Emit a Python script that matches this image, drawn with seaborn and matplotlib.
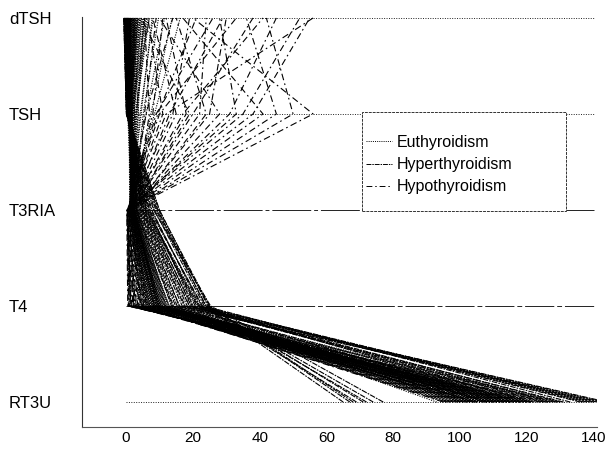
import matplotlib
matplotlib.use("Agg")
import matplotlib.pyplot as plt
import pandas as pd
import seaborn as sns
from matplotlib.patches import Rectangle

# Axis order, bottom to top
variables = ["RT3U", "T4", "T3RIA", "TSH", "dTSH"]
classes = ["Euthyroidism", "Hyperthyroidism", "Hypothyroidism"]
x_ticks = [0, 20, 40, 60, 80, 100, 120, 140]

# Euthyroidism
eu_rt3u = [107, 113, 127, 109, 105, 105, 110, 114, 106, 107,
           106, 110, 116, 112, 122, 109, 111, 114, 119, 115,
           101, 103, 109, 102, 121, 100, 106, 118, 104, 129,
           117, 98, 112, 120, 96, 108, 124, 111, 103, 115,
           99, 113, 126, 105, 110, 118, 93, 121, 108, 116,
           102, 114, 130, 97, 109, 119, 104, 112, 123, 100,
           117, 106, 111, 95, 125, 113, 108, 120, 101, 115]
eu_t4 = [10.1, 9.9, 12.9, 5.3, 7.3, 6.1, 10.4, 9.9, 9.4, 13.0,
         4.2, 11.3, 9.2, 8.1, 9.7, 8.4, 8.4, 6.7, 10.6, 7.1,
         8.8, 6.5, 11.7, 9.0, 7.6, 10.9, 5.8, 8.3, 12.2, 9.5,
         7.9, 11.0, 6.3, 10.2, 8.6, 12.5, 7.0, 9.1, 5.6, 11.8,
         8.0, 6.9, 10.7, 9.6, 4.8, 7.7, 11.5, 8.9, 12.0, 6.0,
         9.3, 10.5, 7.4, 11.2, 8.2, 5.1, 9.8, 6.6, 10.0, 12.7,
         7.2, 8.6, 11.9, 9.0, 6.4, 10.3, 7.8, 4.6, 8.5, 9.7]
eu_t3 = [2.2, 3.1, 2.4, 1.6, 1.5, 2.1, 1.6, 2.4, 2.2, 1.1,
         1.2, 2.3, 2.7, 1.9, 1.6, 2.1, 1.5, 1.5, 2.1, 1.3,
         1.8, 1.4, 2.6, 2.0, 1.7, 2.9, 1.0, 1.9, 3.3, 2.2,
         1.5, 2.5, 1.3, 2.0, 1.8, 3.0, 1.4, 2.3, 1.2, 2.8,
         1.7, 1.6, 2.4, 2.1, 0.9, 1.8, 2.6, 2.0, 3.4, 1.3,
         2.0, 2.3, 1.5, 2.7, 1.9, 1.1, 2.2, 1.4, 2.5, 3.1,
         1.6, 1.9, 2.9, 2.0, 1.2, 2.4, 1.7, 0.8, 1.8, 2.2]
eu_tsh = [0.9, 2.0, 1.4, 1.4, 1.5, 1.4, 1.6, 1.5, 1.5, 0.9,
          1.6, 0.9, 1.0, 3.7, 0.9, 1.1, 0.8, 1.0, 1.3, 1.3,
          1.2, 2.4, 0.7, 1.8, 3.1, 1.0, 2.6, 1.9, 0.6, 1.4,
          4.2, 1.1, 2.2, 0.8, 3.3, 1.7, 1.2, 5.1, 1.5, 2.0,
          0.5, 2.8, 1.3, 1.0, 6.0, 1.6, 0.9, 2.3, 1.1, 4.5,
          1.8, 1.2, 3.6, 0.7, 1.4, 2.9, 1.0, 1.7, 0.8, 2.5,
          1.3, 3.0, 1.1, 7.4, 0.9, 1.5, 2.1, 8.5, 1.9, 1.2]
eu_dtsh = [2.7, 5.9, 0.6, 1.5, -0.1, 7.0, 2.7, 5.7, 0.0, 3.1,
           1.4, 3.3, 4.2, 2.0, 2.2, 3.6, 1.2, 3.5, 1.1, 2.0,
           0.5, 3.9, 1.8, -0.4, 6.2, 2.5, 1.0, 4.8, 0.3, 2.9,
           8.1, 1.6, 3.0, -0.2, 5.4, 2.1, 0.8, 9.7, 1.9, 4.4,
           0.2, 6.6, 2.4, 1.3, 11.5, 3.2, -0.5, 4.1, 1.7, 7.8,
           2.6, 0.9, 5.0, 0.4, 2.3, 6.9, 1.5, 3.7, -0.3, 4.6,
           1.8, 5.3, 1.0, 13.8, 0.7, 2.8, 3.4, 16.2, 2.2, 1.4]

# Hyperthyroidism
hyper_rt3u = [77, 65, 128, 141, 71, 136, 118, 69, 143, 112,
              131, 74, 139, 67, 122, 125, 72, 108, 140, 133,
              115, 68, 142, 137, 127, 104, 138, 121, 144, 130]
hyper_t4 = [25.3, 23.8, 19.5, 16.0, 24.5, 21.2, 14.8, 22.6, 18.3, 13.6,
            17.4, 24.0, 20.7, 25.0, 15.3, 19.0, 22.9, 14.2, 21.8, 23.4,
            16.8, 24.8, 15.9, 20.1, 18.9, 13.9, 22.1, 21.5, 17.7, 19.8]
hyper_t3 = [8.2, 9.5, 6.1, 4.3, 10.0, 5.8, 3.6, 7.4, 5.0, 3.2,
            4.7, 8.9, 6.6, 9.8, 3.9, 5.4, 7.0, 3.4, 6.3, 8.5,
            4.5, 9.2, 4.0, 6.9, 5.2, 3.0, 7.7, 6.0, 4.8, 5.6]
hyper_tsh = [0.1, 0.2, 0.5, 1.1, 0.3, 0.6, 1.3, 0.2, 0.8, 0.9,
             0.4, 0.1, 0.7, 0.3, 1.0, 0.5, 0.2, 1.2, 0.6, 0.4,
             0.9, 0.1, 1.0, 0.3, 0.7, 1.3, 0.4, 0.2, 0.8, 0.5]
hyper_dtsh = [-0.7, -0.5, 0.4, 1.2, -0.3, 0.0, 0.9, -0.6, 0.3, 1.5,
              0.6, -0.7, -0.1, -0.4, 1.0, 0.2, -0.2, 1.3, 0.1, -0.5,
              0.8, -0.6, 0.7, -0.3, 0.5, 1.1, -0.1, -0.4, 0.3, 0.0]

# Hypothyroidism
hypo_rt3u = [121, 105, 98, 116, 110, 126, 102, 113, 119, 101,
             114, 96, 124, 100, 108, 117, 103, 111, 129, 99,
             107, 115, 95, 120, 104, 109, 118, 97]
hypo_t4 = [1.5, 2.3, 4.4, 0.9, 3.1, 0.5, 5.7, 2.8, 1.2, 3.9,
           2.0, 4.9, 0.7, 6.1, 2.6, 1.4, 3.5, 2.2, 0.8, 4.6,
           3.0, 1.7, 5.3, 1.0, 3.7, 2.5, 1.3, 4.1]
hypo_t3 = [0.5, 0.9, 1.4, 0.3, 1.1, 0.2, 1.8, 0.8, 0.6, 1.3,
           0.7, 1.6, 0.4, 2.2, 1.0, 0.5, 1.2, 0.9, 0.3, 1.5,
           1.1, 0.6, 2.0, 0.4, 1.3, 0.8, 0.5, 1.7]
hypo_tsh = [56, 41, 20, 12, 31, 35, 25, 18, 9, 15,
            6, 28, 10, 7, 22, 14, 45, 8, 33, 5.5,
            17, 11, 24, 38, 13, 50, 9.5, 19]
hypo_dtsh = [20, 17, 38, 56, 45, 52, 30, 12, 26, 8,
             14, 10, 33, 5.5, 24, 19, 36, 11, 28, 9,
             41, 6.5, 15, 55, 29, 42, 21, 4.5]

groups = {
    "Euthyroidism": [eu_rt3u, eu_t4, eu_t3, eu_tsh, eu_dtsh],
    "Hyperthyroidism": [hyper_rt3u, hyper_t4, hyper_t3, hyper_tsh, hyper_dtsh],
    "Hypothyroidism": [hypo_rt3u, hypo_t4, hypo_t3, hypo_tsh, hypo_dtsh],
}

# Long table: one row per (patient, variable)
records = []
for cls, cols in groups.items():
    for i in range(len(cols[0])):
        for j, var in enumerate(variables):
            records.append({"id": f"{cls[:4]}{i}", "cls": cls,
                            "pos": j, "value": cols[j][i]})
df = pd.DataFrame(records)

sns.set_theme(style="white")
plt.rcParams["font.family"] = ["Liberation Sans", "DejaVu Sans"]
plt.rcParams["text.color"] = "black"
plt.rcParams["xtick.color"] = "black"
plt.rcParams["ytick.color"] = "black"

fig = plt.figure(figsize=(6.05, 4.49), dpi=100)
ax = fig.add_axes([82 / 605, 22 / 449, 515 / 605, 410 / 449])

# Reference line for each variable
level_styles = [(0, (1, 1.5)), (0, (30, 3, 5, 3)), (0, (40, 3, 4, 3)),
                (0, (1, 1.5)), (0, (1, 1.5))]
for j, ls in enumerate(level_styles):
    ax.plot([0, 140], [j, j], color="#222222", lw=0.7, ls=ls, zorder=1)

sns.lineplot(data=df, x="value", y="pos", units="id", estimator=None,
             style="cls", style_order=classes,
             dashes={"Euthyroidism": (1, 1.2),
                     "Hyperthyroidism": (5, 1, 1.5, 1),
                     "Hypothyroidism": (6, 3, 1.5, 3)},
             color="black", lw=0.8, sort=False, orient="y", ax=ax, zorder=2)

old = ax.get_legend()
handles = old.legend_handles
labels = [t.get_text() for t in old.texts]
old.remove()
for h in handles:
    h.set_linewidth(0.7)

ax.add_patch(Rectangle((362 / 605, (449 - 211) / 449), 204 / 605, 99 / 449,
                       transform=fig.transFigure, facecolor="white",
                       edgecolor="#333333", lw=0.7, ls=(0, (3, 1)),
                       zorder=4, clip_on=False))
ax.legend(handles, labels, loc="upper left",
          bbox_to_anchor=(366 / 605, (449 - 135) / 449),
          bbox_transform=fig.transFigure, frameon=False,
          borderpad=0, borderaxespad=0, handlelength=1.6,
          handletextpad=0.3, labelspacing=0.45, fontsize=11.5)

ax.set_xlim(-13.2, 141)
ax.set_ylim(-0.26, 4.01)
ax.set_xticks(x_ticks)
ax.set_xticklabels([str(t) for t in x_ticks])
ax.set_yticks(range(len(variables)))
ax.set_yticklabels(variables)
ax.set_xlabel("")
ax.set_ylabel("")

ax.tick_params(axis="x", direction="in", length=4, width=0.7,
               color="#333333", labelcolor="black", labelsize=11, pad=3)
ax.tick_params(axis="y", direction="in", length=3, width=0.7,
               color="#333333", labelcolor="black", labelsize=12, pad=52.6)
for lab in ax.get_yticklabels():
    lab.set_horizontalalignment("left")

for side in ["top", "right"]:
    ax.spines[side].set_visible(False)
ax.spines["left"].set_color("#333333")
ax.spines["left"].set_linewidth(0.8)
ax.spines["bottom"].set_color("#555555")
ax.spines["bottom"].set_linewidth(0.8)
ax.spines["bottom"].set_linestyle((0, (2, 1)))

fig.savefig("out.png", dpi=100)
